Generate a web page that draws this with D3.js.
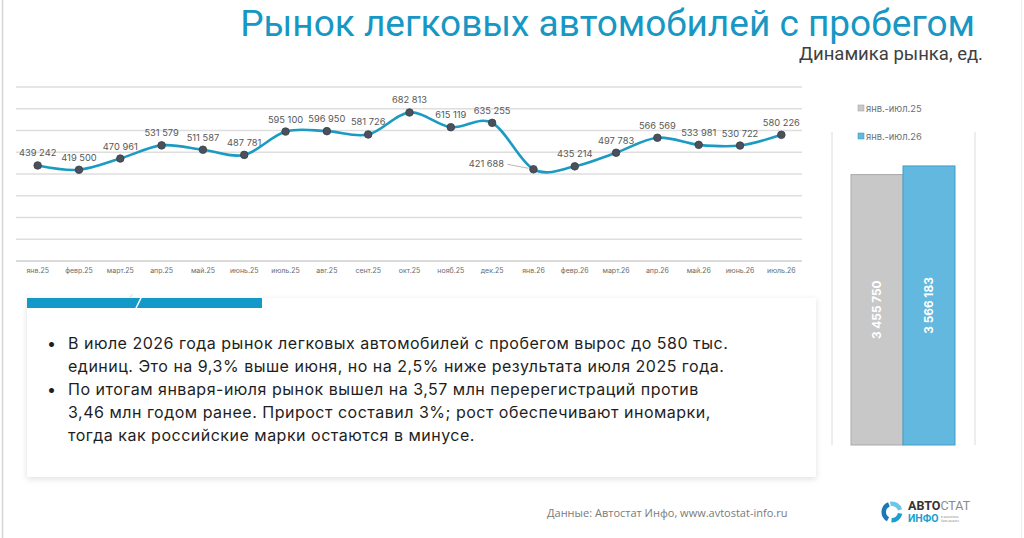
<!DOCTYPE html>
<html>
<head>
<meta charset="utf-8">
<script src="https://cdn.jsdelivr.net/npm/d3@7"></script>
<style>
  body { margin: 0; background: #fff; }
  svg { display: block; }
</style>
</head>
<body>
<div id="main"></div>
<script>
const months = ["янв.25", "февр.25", "март.25", "апр.25", "май.25", "июнь.25", "июль.25", "авг.25",
    "сент.25", "окт.25", "нояб.25", "дек.25", "янв.26", "февр.26", "март.26", "апр.26",
    "май.26", "июнь.26", "июль.26"];
const sales = [439242, 419500, 470961, 531579, 511587, 487781, 595100, 596950, 581726, 682813,
    615119, 635255, 421688, 435214, 497783, 566569, 533981, 530722, 580226];
const periods = ["янв.-июл.25", "янв.-июл.26"];
const totals = [3455750, 3566183];
const notes = [
    ["В июле 2026 года рынок легковых автомобилей с пробегом вырос до 580 тыс.",
     "единиц. Это на 9,3% выше июня, но на 2,5% ниже результата июля 2025 года."],
    ["По итогам января-июля рынок вышел на 3,57 млн перерегистраций против",
     "3,46 млн годом ранее. Прирост составил 3%; рост обеспечивают иномарки,",
     "тогда как российские марки остаются в минусе."]
];

const width = 1024;
const height = 538;
const fmt = d3.format(",");
const numFmt = (d) => fmt(d).replace(/,/g, " ");

const svg = d3.select("#main")
    .append("svg")
    .attr("width", width)
    .attr("height", height);

const defs = svg.append("defs");
const shadow = defs.append("filter")
    .attr("id", "shadow")
    .attr("x", "-5%").attr("y", "-10%")
    .attr("width", "110%").attr("height", "125%");
shadow.append("feDropShadow")
    .attr("dx", 0).attr("dy", 2)
    .attr("stdDeviation", 3)
    .attr("flood-color", "#000")
    .attr("flood-opacity", 0.12);

// slide borders
svg.append("line").attr("x1", 2.5).attr("x2", 2.5).attr("y1", 0).attr("y2", height)
    .attr("stroke", "#d6d6d6").attr("stroke-width", 1.5);
svg.append("line").attr("x1", 1021.5).attr("x2", 1021.5).attr("y1", 0).attr("y2", height)
    .attr("stroke", "#ececec").attr("stroke-width", 1);

// title
svg.append("text")
    .attr("x", 975).attr("y", 36)
    .attr("text-anchor", "end")
    .style("font-family", "Roboto")
    .style("font-size", "37px")
    .style("fill", "#1797c4")
    .text("Рынок легковых автомобилей с пробегом");

svg.append("text")
    .attr("x", 983).attr("y", 60)
    .attr("text-anchor", "end")
    .style("font-family", "Roboto")
    .style("font-size", "18.5px")
    .style("fill", "#404040")
    .text("Динамика рынка, ед.");

// line chart
const xScale = d3.scaleBand()
    .domain(months)
    .range([17, 802]);

const yScale = d3.scaleLinear()
    .domain([0, 800000])
    .range([261, 87]);

const grid = svg.append("g");
grid.selectAll("line")
    .data(yScale.ticks(8))
    .enter()
    .append("line")
    .attr("x1", 16)
    .attr("x2", 802)
    .attr("y1", (d) => yScale(d))
    .attr("y2", (d) => yScale(d))
    .attr("stroke", (d) => d === 0 ? "#cfcfcf" : "#dedede")
    .attr("stroke-width", 1.3);

const xAxis = d3.axisBottom(xScale).tickSize(0).tickPadding(7);
const xg = svg.append("g")
    .attr("transform", "translate(0,261)")
    .call(xAxis);
xg.select(".domain").remove();
xg.selectAll("text")
    .style("font-family", "Inter")
    .style("font-size", "7px")
    .style("fill", "#6b6b6b");

const cx = (i) => xScale(months[i]) + xScale.bandwidth() / 2;

const line = d3.line()
    .x((d, i) => cx(i))
    .y((d) => yScale(d))
    .curve(d3.curveCatmullRom.alpha(0));

svg.append("path")
    .datum(sales)
    .attr("d", line)
    .attr("fill", "none")
    .attr("stroke", "#1c9bc2")
    .attr("stroke-width", 2.6);

svg.append("g")
    .selectAll("circle")
    .data(sales)
    .enter()
    .append("circle")
    .attr("cx", (d, i) => cx(i))
    .attr("cy", (d) => yScale(d))
    .attr("r", 3.8)
    .attr("fill", "#4a505c")
    .attr("stroke", "#3a3f49")
    .attr("stroke-width", 0.8);

// data labels; the January dip is labelled to the left with a leader line
const leftLabel = 12;
const labels = svg.append("g")
    .style("font-family", "Inter")
    .style("font-size", "9.3px")
    .style("fill", "#585858");

labels.selectAll("text")
    .data(sales)
    .enter()
    .append("text")
    .attr("x", (d, i) => i === leftLabel ? cx(i) - 47 : cx(i))
    .attr("y", (d, i) => i === leftLabel ? yScale(d) - 2 : yScale(d) - 9)
    .attr("text-anchor", "middle")
    .text((d) => numFmt(d));

svg.append("line")
    .attr("x1", cx(leftLabel) - 26)
    .attr("y1", yScale(sales[leftLabel]) - 5)
    .attr("x2", cx(leftLabel) - 5)
    .attr("y2", yScale(sales[leftLabel]) - 1)
    .attr("stroke", "#9a9a9a")
    .attr("stroke-width", 0.7);

// totals bar chart
const barX = d3.scaleBand()
    .domain(periods)
    .range([851, 955])
    .padding(0);

const barY = d3.scaleLinear()
    .domain([0, 4000000])
    .range([445, 132]);

const barFill = ["#c8c8c8", "#62b8de"];
const barStroke = ["#a9a9a9", "#3f9fca"];

svg.append("line").attr("x1", 832).attr("x2", 832).attr("y1", barY(4000000)).attr("y2", barY(0))
    .attr("stroke", "#dcdcdc").attr("stroke-width", 1);
svg.append("line").attr("x1", 975).attr("x2", 975).attr("y1", barY(4000000)).attr("y2", barY(0))
    .attr("stroke", "#dcdcdc").attr("stroke-width", 1);

svg.append("g")
    .selectAll("rect")
    .data(totals)
    .enter()
    .append("rect")
    .attr("x", (d, i) => barX(periods[i]))
    .attr("y", (d) => barY(d))
    .attr("width", barX.bandwidth())
    .attr("height", (d) => barY(0) - barY(d))
    .attr("fill", (d, i) => barFill[i])
    .attr("stroke", (d, i) => barStroke[i])
    .attr("stroke-width", 1);

svg.append("g")
    .selectAll("text")
    .data(totals)
    .enter()
    .append("text")
    .attr("transform", (d, i) => "translate(" + (barX(periods[i]) + barX.bandwidth() / 2 + 4) + ","
        + ((barY(d) + barY(0)) / 2) + ") rotate(-90)")
    .attr("text-anchor", "middle")
    .style("font-family", "Inter")
    .style("font-weight", "700")
    .style("font-size", "11.8px")
    .style("fill", "#fff")
    .text((d) => numFmt(d));

const legend = svg.append("g")
    .selectAll("g")
    .data(periods)
    .enter()
    .append("g")
    .attr("transform", (d, i) => "translate(858," + (105 + i * 28) + ")");
legend.append("rect")
    .attr("width", 6).attr("height", 6)
    .attr("fill", (d, i) => barFill[i])
    .attr("stroke", (d, i) => barStroke[i])
    .attr("stroke-width", 0.6);
legend.append("text")
    .attr("x", 8).attr("y", 6.5)
    .style("font-family", "Inter")
    .style("font-size", "9.3px")
    .style("fill", "#6e6e6e")
    .text((d) => d);

// commentary box
svg.append("rect")
    .attr("x", 27).attr("y", 298)
    .attr("width", 789).attr("height", 179)
    .attr("fill", "#fff")
    .attr("filter", "url(#shadow)");
svg.append("rect")
    .attr("x", 27).attr("y", 298)
    .attr("width", 235).attr("height", 10)
    .attr("fill", "#1299c8");
svg.append("line")
    .attr("x1", 136).attr("y1", 308).attr("x2", 141).attr("y2", 298)
    .attr("stroke", "#fff").attr("stroke-width", 1.6);
svg.append("line")
    .attr("x1", 130).attr("y1", 298).attr("x2", 132).attr("y2", 294)
    .attr("stroke", "#e2e2e2").attr("stroke-width", 1.2);

const noteLines = [];
notes.forEach((para) => para.forEach((t, j) => noteLines.push({ text: t, first: j === 0 })));

const notesG = svg.append("g")
    .style("font-family", "Inter")
    .style("font-size", "16px")
    .style("fill", "#1e1e1e");

notesG.selectAll("text.line")
    .data(noteLines)
    .enter()
    .append("text")
    .attr("class", "line")
    .attr("x", 68)
    .attr("y", (d, i) => 348.5 + i * 23.1)
    .style("letter-spacing", "0.5px")
    .text((d) => d.text);

notesG.selectAll("text.bullet")
    .data(noteLines.filter((d) => d.first))
    .enter()
    .append("text")
    .attr("class", "bullet")
    .attr("x", 47)
    .attr("y", (d) => 348.5 + noteLines.indexOf(d) * 23.1)
    .text("•");

// footer
svg.append("text")
    .attr("x", 547).attr("y", 517)
    .style("font-family", "Open Sans")
    .style("font-size", "11px")
    .style("fill", "#7a7a7a")
    .text("Данные: Автостат Инфо, www.avtostat-info.ru");

// logo
const logo = svg.append("g").attr("transform", "translate(892,512)");
const arc = d3.arc().innerRadius(6).outerRadius(10.5);
const logoArcs = [
    { s: -0.2, e: 1.3, c: "#6cc6e8" },
    { s: 1.75, e: 3.2, c: "#1b9fd0" },
    { s: 3.65, e: 5.9, c: "#1a78b4" }
];
logo.selectAll("path")
    .data(logoArcs)
    .enter()
    .append("path")
    .attr("d", (d) => arc({ startAngle: d.s, endAngle: d.e }))
    .attr("fill", (d) => d.c);

const logoText = svg.append("text")
    .attr("x", 908).attr("y", 510)
    .style("font-family", "Roboto")
    .style("font-size", "12.5px");
logoText.append("tspan").style("font-weight", "700").style("fill", "#333").text("АВТО");
logoText.append("tspan").style("fill", "#8a8a8a").text("СТАТ");

svg.append("text")
    .attr("x", 908).attr("y", 522)
    .style("font-family", "Roboto")
    .style("font-weight", "700")
    .style("font-size", "10.5px")
    .style("fill", "#1b9fd0")
    .text("ИНФО");

svg.append("text")
    .attr("x", 941).attr("y", 518)
    .style("font-family", "Roboto")
    .style("font-size", "3px")
    .style("fill", "#999")
    .text("в аналитика");
svg.append("text")
    .attr("x", 941).attr("y", 521.5)
    .style("font-family", "Roboto")
    .style("font-size", "3px")
    .style("fill", "#999")
    .text("база данных");
</script>
</body>
</html>
